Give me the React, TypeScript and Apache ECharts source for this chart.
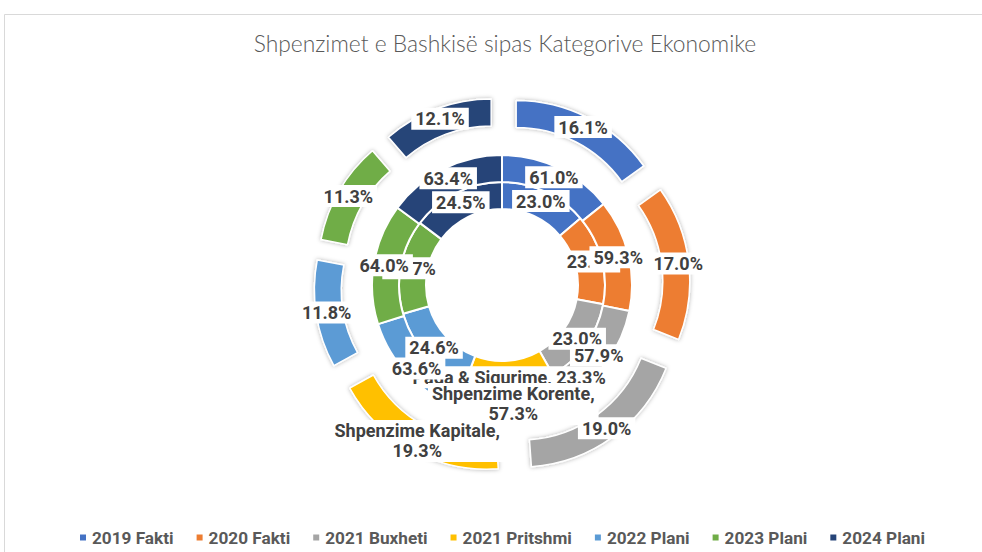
import React, { useEffect, useRef } from "react";
import * as echarts from "echarts";

const categories = ["2019 Fakti", "2020 Fakti", "2021 Buxheti", "2021 Pritshmi", "2022 Plani", "2023 Plani", "2024 Plani"];
const pagaValues = [23.0, 23.7, 23.0, 23.3, 24.6, 24.7, 24.5];
const korenteValues = [61.0, 59.3, 57.9, 57.3, 63.6, 64.0, 63.4];
const kapitaleValues = [16.1, 17.0, 19.0, 19.3, 11.8, 11.3, 12.1];
const seriesNames = ["Paga & Sigurime", "Shpenzime Korente", "Shpenzime Kapitale"];
const colors = ["#4472C4", "#ED7D31", "#A5A5A5", "#FFC000", "#5B9BD5", "#70AD47", "#264478"];
const namedLabelIndex = 3;

export default function App() {
  const ref = useRef<HTMLDivElement>(null);
  useEffect(() => {
    const chart = echarts.init(ref.current!, null, { renderer: "svg" });
    const labelBase = {
      show: true,
      position: "inside",
      fontFamily: "Roboto",
      fontWeight: "bold",
      fontSize: 18,
      color: "#404040",
      backgroundColor: "#ffffff",
      padding: [2, 4, 0, 4],
      lineHeight: 20,
      align: "center",
    };
    const mk = (name: string, values: number[], radius: number[], twoLine: boolean, exploded: boolean) => ({
      type: "pie",
      name,
      center: [502, 285],
      radius,
      startAngle: 90,
      clockwise: true,
      selectedMode: exploded ? "multiple" : false,
      selectedOffset: 31,
      avoidLabelOverlap: false,
      labelLayout: { hideOverlap: false },
      labelLine: { show: false },
      emphasis: { disabled: true },
      itemStyle: exploded
        ? { borderColor: "#ffffff", borderWidth: 1.5, shadowBlur: 4, shadowColor: "rgba(0,0,0,0.3)" }
        : { borderColor: "#ffffff", borderWidth: 2 },
      label: {
        ...labelBase,
        formatter: (p: any) =>
          p.dataIndex === namedLabelIndex
            ? name + "," + (twoLine ? "\n" : " ") + p.value.toFixed(1) + "%"
            : p.value.toFixed(1) + "%",
      },
      data: values.map((v, i) => ({
        name: categories[i],
        value: v,
        selected: exploded,
        itemStyle: { color: colors[i] },
      })),
    });
    chart.setOption({
      animation: false,
      color: colors,
      title: {
        text: "Shpenzimet e Bashkisë sipas Kategorive Ekonomike",
        left: 500,
        top: 26,
        textAlign: "center",
        textStyle: { fontFamily: "Lato", fontWeight: 300, fontSize: 22.8, color: "#595959" },
      },
      legend: {
        data: categories,
        bottom: 6,
        left: 78,
        width: 900,
        padding: 0,
        orient: "horizontal",
        icon: "rect",
        itemWidth: 8,
        itemHeight: 8,
        itemGap: 21,
        selectedMode: false,
        textStyle: { fontFamily: "Roboto", fontWeight: "bold", fontSize: 17.2, color: "#595959" },
      },
      graphic: [
        {
          type: "rect",
          shape: { x: 4.5, y: 14.5, width: 1000, height: 560 },
          style: { fill: "none", stroke: "#d9d9d9", lineWidth: 1 },
          silent: true,
        },
      ],
      series: [
        mk(seriesNames[0], pagaValues, [76, 103], false, false),
        mk(seriesNames[1], korenteValues, [103, 130], true, false),
        mk(seriesNames[2], kapitaleValues, [130, 157], true, true),
      ],
    });
    return () => chart.dispose();
  }, []);
  return <div ref={ref} style={{ position: "absolute", left: 0, top: 0, width: 982, height: 552 }} />;
}
